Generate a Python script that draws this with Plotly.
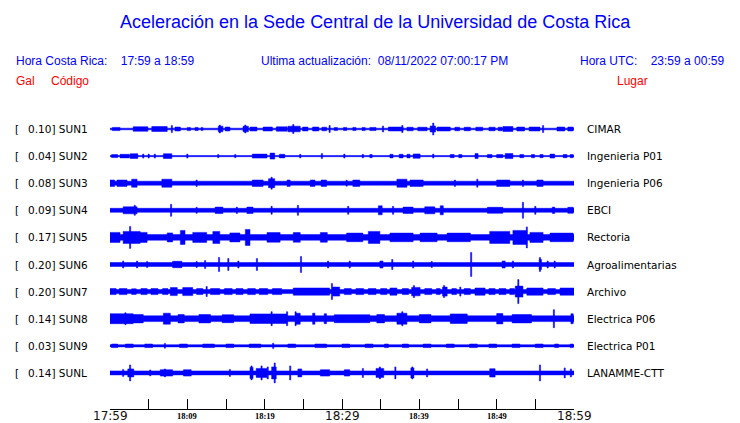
import plotly.graph_objects as go

# ---------------- data ----------------
STATIONS = ["SUN1", "SUN2", "SUN3", "SUN4", "SUN5", "SUN6", "SUN7", "SUN8", "SUN9", "SUNL"]
GAL = [0.10, 0.04, 0.08, 0.09, 0.17, 0.20, 0.20, 0.14, 0.03, 0.14]
LUGAR = ["CIMAR", "Ingenieria P01", "Ingenieria P06", "EBCI", "Rectoria",
         "Agroalimentarias", "Archivo", "Electrica P06", "Electrica P01", "LANAMME-CTT"]

# continuous background amplitude of each trace (half-thickness)
BASE_AMP = [0.8, 0.6, 2.0, 2.0, 2.8, 2.0, 2.0, 2.9, 1.1, 2.0]

# bursts: (start minute, end minute, half-amplitude); start == end -> single spike
SUN1_BURSTS = [(0.3, 1.3, 1.6), (3.0, 4.9, 2.3), (5.4, 7.4, 2.5), (8.0, 8.0, 3.5), (8.4, 9.1, 2.0),
               (10.0, 10.4, 1.6), (11.0, 11.4, 1.6), (11.8, 12.0, 1.6), (14.0, 14.6, 2.8), (14.2, 14.2, 4.0),
               (14.9, 15.5, 2.0), (17.2, 17.9, 2.8), (17.5, 17.5, 4.0), (18.1, 19.0, 2.0), (19.8, 21.0, 2.0),
               (21.5, 22.9, 2.2), (23.0, 24.6, 2.8), (23.7, 23.7, 4.5), (24.9, 25.6, 2.0), (26.2, 27.0, 2.0),
               (27.4, 28.0, 1.8), (28.4, 28.4, 3.5), (29.0, 29.4, 1.6), (30.2, 30.6, 1.6), (31.4, 31.8, 1.6),
               (32.6, 33.0, 1.6), (33.6, 34.4, 1.6), (35.3, 35.3, 3.0), (36.0, 37.9, 2.0), (37.8, 37.8, 3.5),
               (38.4, 39.2, 1.8), (39.8, 41.0, 1.8), (41.4, 42.1, 3.0), (41.8, 41.8, 6.0), (42.3, 44.0, 2.0),
               (44.6, 45.2, 1.8), (45.8, 46.6, 1.8), (47.3, 48.2, 1.8), (49.0, 49.8, 1.8), (50.2, 50.7, 1.8),
               (50.8, 52.1, 2.5), (52.6, 53.6, 2.0), (54.2, 55.6, 2.0), (56.0, 56.0, 3.5), (57.8, 58.8, 2.0),
               (59.2, 59.9, 2.0)]
SUN2_BURSTS = [(0.2, 1.0, 1.5), (1.3, 2.5, 1.8), (2.6, 3.6, 2.4), (4.3, 4.3, 2.0), (5.0, 5.0, 2.0),
               (5.8, 5.8, 2.0), (6.9, 8.0, 2.4), (10.0, 10.0, 2.0), (14.0, 14.0, 1.6), (16.2, 16.2, 1.6),
               (18.4, 20.3, 2.0), (20.7, 21.3, 3.0), (21.9, 22.6, 1.8), (24.6, 24.6, 1.8), (27.4, 27.4, 2.5),
               (30.3, 30.3, 2.0), (32.7, 32.7, 1.8), (33.6, 33.9, 1.6), (36.2, 36.6, 1.8), (37.4, 37.9, 1.8),
               (38.4, 38.8, 1.8), (39.2, 40.1, 2.2), (41.8, 41.8, 2.0), (44.0, 44.5, 1.6), (45.1, 45.5, 1.6),
               (47.2, 47.6, 2.5), (48.8, 49.4, 1.6), (50.0, 50.8, 1.6), (51.1, 52.1, 2.5), (53.0, 53.5, 1.6),
               (54.5, 54.9, 1.6), (55.6, 56.0, 1.6), (56.9, 57.5, 2.0), (58.6, 59.1, 1.6), (59.5, 59.9, 1.6)]
SUN3_BURSTS = [(0.0, 0.6, 3.2), (0.9, 2.2, 3.2), (2.8, 3.5, 4.0), (6.7, 8.0, 4.0), (11.2, 11.2, 3.2),
               (18.4, 19.8, 3.2), (20.5, 21.3, 4.5), (20.9, 20.9, 6.0), (22.9, 23.3, 3.2), (25.9, 26.5, 3.2),
               (27.3, 28.0, 3.2), (30.6, 30.6, 3.0), (31.4, 32.3, 3.2), (37.1, 38.4, 4.0), (38.8, 40.5, 3.2),
               (44.6, 44.6, 3.2), (47.5, 47.5, 4.0), (50.0, 51.7, 3.2), (53.4, 53.4, 3.2), (55.2, 56.0, 3.2)]
SUN4_BURSTS = [(1.7, 3.5, 3.5), (3.2, 3.2, 5.0), (7.9, 7.9, 6.0), (11.2, 11.2, 3.0), (13.6, 14.6, 3.2),
               (16.4, 16.4, 3.2), (17.7, 18.5, 3.2), (20.9, 20.9, 4.0), (24.3, 24.3, 5.0), (30.8, 30.8, 4.0),
               (34.7, 35.2, 4.5), (36.6, 36.6, 4.0), (37.9, 39.2, 3.2), (40.7, 42.0, 3.5), (42.7, 43.1, 4.5),
               (48.8, 50.8, 3.0), (53.4, 53.4, 8.0), (55.0, 55.0, 4.0), (57.2, 57.5, 3.2), (59.2, 59.9, 3.0)]
SUN5_BURSTS = [(0.0, 1.3, 5.0), (1.7, 3.9, 6.0), (2.6, 2.6, 11.0), (3.9, 4.8, 5.0), (7.4, 8.1, 4.5),
               (9.1, 9.7, 7.0), (10.7, 12.5, 5.0), (13.3, 14.2, 6.0), (15.5, 16.8, 4.5), (17.5, 18.1, 8.0),
               (20.3, 22.0, 4.8), (23.7, 24.6, 4.8), (27.2, 28.1, 4.8), (30.6, 32.7, 4.3), (33.4, 34.9, 6.0),
               (36.2, 39.2, 4.3), (40.1, 42.3, 4.3), (43.6, 46.6, 4.3), (49.1, 51.7, 6.0), (52.1, 53.9, 7.0),
               (53.9, 53.9, 10.5), (54.3, 56.0, 5.0), (56.9, 59.9, 4.3)]
SUN6_BURSTS = [(1.7, 1.7, 3.5), (3.5, 3.5, 3.5), (4.8, 4.8, 3.0), (8.1, 9.3, 3.2), (11.2, 11.2, 3.0),
               (12.3, 12.3, 4.0), (14.1, 14.1, 7.0), (15.3, 15.3, 6.0), (16.6, 16.6, 3.5), (19.0, 19.0, 6.0),
               (24.7, 24.7, 8.0), (28.2, 28.2, 3.5), (31.0, 31.0, 3.5), (34.9, 35.3, 3.5), (36.5, 36.5, 5.0),
               (39.2, 39.2, 3.5), (41.6, 41.6, 3.0), (46.7, 46.7, 12.0), (50.7, 51.1, 3.5), (52.1, 52.1, 3.5),
               (55.5, 55.8, 5.0), (55.6, 55.6, 7.0), (56.6, 56.6, 3.5), (57.5, 57.5, 3.5)]
SUN7_BURSTS = [(0.0, 0.8, 3.0), (1.2, 2.2, 3.0), (2.8, 3.4, 2.8), (4.0, 4.8, 3.0), (5.3, 6.2, 3.0),
               (6.8, 7.5, 3.0), (7.8, 8.7, 4.0), (9.4, 10.7, 4.0), (11.2, 12.0, 3.0), (12.5, 12.5, 5.0),
               (13.0, 14.2, 3.0), (14.8, 15.8, 3.0), (16.3, 17.2, 3.0), (17.8, 18.8, 3.0), (19.3, 20.4, 3.0),
               (21.0, 22.2, 3.0), (23.7, 28.4, 3.6), (28.7, 28.7, 8.0), (28.8, 29.7, 4.5), (30.3, 31.2, 3.0),
               (31.8, 32.8, 3.0), (33.4, 34.4, 3.0), (35.0, 35.8, 3.0), (36.2, 37.1, 3.6), (37.8, 38.6, 3.0),
               (39.0, 40.1, 4.2), (39.3, 39.3, 6.0), (40.7, 41.6, 3.0), (42.2, 42.7, 3.0), (43.0, 43.6, 4.5),
               (43.2, 43.2, 6.0), (44.2, 44.8, 3.0), (45.3, 45.3, 4.5), (45.8, 46.6, 3.0), (47.2, 48.5, 3.6),
               (49.0, 49.8, 3.0), (50.3, 51.2, 3.0), (51.7, 52.3, 3.0), (52.4, 53.4, 5.5), (52.8, 52.8, 12.0),
               (53.9, 56.0, 3.6), (56.6, 57.6, 3.0), (58.2, 60.0, 3.6)]
SUN8_BURSTS = [(0.0, 3.0, 5.0), (2.0, 2.0, 6.0), (3.0, 4.3, 4.2), (6.9, 7.8, 5.5), (8.8, 9.6, 4.2),
               (11.5, 13.0, 4.2), (14.5, 16.0, 4.0), (18.1, 22.9, 4.8), (20.9, 20.9, 7.0), (22.9, 22.9, 7.0),
               (24.0, 24.6, 5.5), (24.0, 24.0, 7.0), (26.2, 26.5, 5.5), (27.7, 28.0, 5.0), (29.0, 33.6, 4.0),
               (34.5, 35.5, 4.2), (37.1, 38.4, 5.5), (37.8, 37.8, 7.0), (40.0, 41.5, 4.2), (44.0, 46.2, 4.8),
               (50.0, 50.8, 5.2), (52.0, 54.5, 4.2), (57.4, 57.4, 9.0), (59.6, 59.9, 5.0)]
SUN9_BURSTS = [(0.2, 1.0, 1.8), (2.0, 3.0, 1.8), (4.5, 5.5, 1.8), (7.1, 7.1, 2.4), (9.0, 10.0, 1.8),
               (12.0, 13.5, 1.8), (15.0, 16.0, 1.8), (18.0, 19.5, 1.8), (21.1, 21.1, 2.6), (23.0, 24.0, 1.8),
               (26.5, 28.0, 1.8), (30.0, 31.0, 1.8), (33.0, 34.0, 1.8), (35.5, 36.0, 1.8), (37.8, 38.6, 1.8),
               (40.5, 41.5, 1.8), (43.5, 44.5, 1.8), (46.5, 47.5, 1.8), (49.0, 50.0, 1.8), (52.0, 53.0, 1.8),
               (55.0, 56.0, 1.8), (57.5, 58.0, 1.8), (59.5, 59.9, 1.8)]
SUNL_BURSTS = [(1.7, 1.7, 3.5), (2.3, 2.9, 4.0), (2.6, 2.6, 8.0), (3.0, 3.0, 4.0), (5.2, 5.2, 3.0),
               (6.5, 8.1, 3.2), (7.1, 7.1, 4.0), (9.5, 10.5, 3.2), (15.5, 15.5, 3.5), (18.1, 18.5, 5.5),
               (18.3, 18.3, 7.0), (18.9, 20.3, 4.5), (19.6, 19.6, 7.0), (20.4, 20.4, 6.0), (20.9, 21.5, 6.0),
               (21.3, 21.3, 10.0), (23.3, 23.3, 7.0), (24.3, 24.8, 4.0), (27.2, 28.4, 3.2), (30.3, 31.0, 3.2),
               (32.7, 32.7, 4.5), (34.4, 35.4, 4.5), (34.9, 34.9, 6.0), (36.9, 36.9, 6.0), (38.9, 39.3, 5.0),
               (39.1, 39.1, 6.0), (41.0, 41.0, 4.0), (49.1, 49.8, 4.2), (55.6, 55.6, 8.0), (58.8, 58.8, 5.0),
               (59.6, 59.6, 4.0)]

BURSTS = [SUN1_BURSTS, SUN2_BURSTS, SUN3_BURSTS, SUN4_BURSTS, SUN5_BURSTS,
          SUN6_BURSTS, SUN7_BURSTS, SUN8_BURSTS, SUN9_BURSTS, SUNL_BURSTS]

TICK_MINUTES = [0, 5, 10, 15, 20, 25, 30, 35, 40, 45, 50, 55, 60]
TICK_LABELS = ["17:59", "", "18:09", "", "18:19", "", "18:29", "", "18:39", "", "18:49", "", "18:59"]
MAJOR_TICKS = ["17:59", "18:29", "18:59"]

TITLE = "Aceleración en la Sede Central de la Universidad de Costa Rica"
HORA_CR = "Hora Costa Rica:&#160;&#160;&#160;&#160;17:59 a 18:59"
ACTUALIZACION = "Ultima actualización:&#160;&#160;08/11/2022 07:00:17 PM"
HORA_UTC = "Hora UTC:&#160;&#160;&#160;&#160;23:59 a 00:59"

# ---------------- style / layout ----------------
W, H = 740, 423
PL, PR, PT, PB = 110, 574, 110, 409      # plot area in pixels
ROW = 27.1                              # vertical spacing between traces
SPIKE_W = 0.15                          # width of a single spike (minutes)
BLUE = "#0000FF"
RED = "#FF0000"
HDR_FONT = "Liberation Sans, Arial, sans-serif"
LBL_FONT = "DejaVu Sans, sans-serif"


def px_x(p):
    return (p - PL) / (PR - PL)


def px_y(p):
    return (PB - p) / (PB - PT)


fig = go.Figure()

for i, bursts in enumerate(BURSTS):
    c = i * ROW
    xs, ys = [], []

    def rect(t0, t1, a):
        xs.extend([t0, t1, t1, t0, t0, None])
        ys.extend([c - a, c - a, c + a, c + a, c - a, None])

    rect(0, 60, BASE_AMP[i])
    for t0, t1, a in bursts:
        if t1 <= t0:
            t0, t1 = t0 - SPIKE_W / 2, t0 + SPIKE_W / 2
        rect(max(t0, 0), min(t1, 60), a)
    fig.add_trace(go.Scatter(x=xs, y=ys, mode="lines", fill="toself", fillcolor=BLUE,
                             line=dict(color=BLUE, width=0.5), hoverinfo="skip",
                             showlegend=False))

ann = []
# title and headers
ann.append(dict(text=TITLE, x=px_x(375), y=px_y(22), font=dict(family=HDR_FONT, size=18, color=BLUE),
                xanchor="center"))
ann.append(dict(text=HORA_CR, x=px_x(14), y=px_y(61), font=dict(family=HDR_FONT, size=12, color=BLUE),
                xanchor="left"))
ann.append(dict(text=ACTUALIZACION, x=px_x(259), y=px_y(61), font=dict(family=HDR_FONT, size=12, color=BLUE),
                xanchor="left"))
ann.append(dict(text=HORA_UTC, x=px_x(726), y=px_y(61), font=dict(family=HDR_FONT, size=12, color=BLUE),
                xanchor="right"))
ann.append(dict(text="Gal", x=px_x(14), y=px_y(81), font=dict(family=HDR_FONT, size=12, color=RED),
                xanchor="left"))
ann.append(dict(text="Código", x=px_x(49), y=px_y(81), font=dict(family=HDR_FONT, size=12, color=RED),
                xanchor="left"))
ann.append(dict(text="Lugar", x=px_x(650), y=px_y(81), font=dict(family=HDR_FONT, size=12, color=RED),
                xanchor="right"))
for a in ann:
    a.update(xref="paper", yref="paper", yanchor="middle", showarrow=False)

# row labels
for i, (st, g, lg) in enumerate(zip(STATIONS, GAL, LUGAR)):
    y = i * ROW
    ann.append(dict(text="[", x=px_x(13), xref="paper", y=y, yref="y", xanchor="left", yanchor="middle",
                    showarrow=False, font=dict(family=LBL_FONT, size=10.5, color="black")))
    ann.append(dict(text=f"{g:.2f}] {st}", x=px_x(26), xref="paper", y=y, yref="y", xanchor="left",
                    yanchor="middle", showarrow=False, font=dict(family=LBL_FONT, size=10.5, color="black")))
    ann.append(dict(text=lg, x=px_x(585), xref="paper", y=y, yref="y", xanchor="left", yanchor="middle",
                    showarrow=False, font=dict(family=LBL_FONT, size=10.5, color="black")))

# time tick labels
for m, lab in zip(TICK_MINUTES, TICK_LABELS):
    if not lab:
        continue
    if lab in MAJOR_TICKS:
        f = dict(family=LBL_FONT, size=12, color="#111111")
        ys = 2
    else:
        f = dict(family="Liberation Serif, serif", size=8.5, color="black", weight="bold")
        ys = 0
    ann.append(dict(text=lab, x=m, xref="x", y=0, yref="paper", xanchor="center", yanchor="top",
                    yshift=ys, showarrow=False, font=f))

y_top = (PT - 129)
y_bot = (PB - 129)

fig.update_layout(
    width=W, height=H, autosize=False,
    margin=dict(l=PL, r=W - PR, t=PT, b=H - PB, pad=0),
    paper_bgcolor="white", plot_bgcolor="white",
    showlegend=False,
    annotations=ann,
    xaxis=dict(range=[0, 60], showgrid=False, zeroline=False, showline=True, linecolor="black",
               linewidth=1, ticks="inside", ticklen=10, tickwidth=1, tickcolor="black",
               tickvals=TICK_MINUTES, showticklabels=False, fixedrange=True),
    yaxis=dict(range=[y_bot, y_top], showgrid=False, zeroline=False, showline=False,
               showticklabels=False, ticks="", fixedrange=True),
)

fig.write_html("out.html", config={"displayModeBar": False},
               post_script="document.body.style.margin='0';document.body.style.overflow='hidden';")
